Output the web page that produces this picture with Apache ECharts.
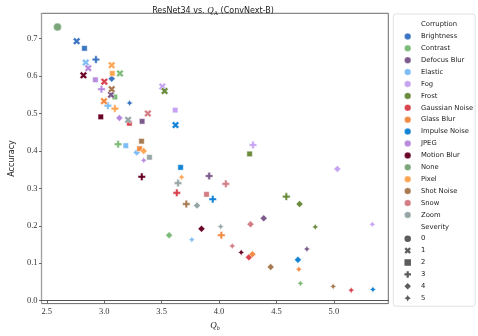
<!DOCTYPE html>
<html>
<head>
<meta charset="utf-8">
<script src="https://cdn.jsdelivr.net/npm/echarts@6/dist/echarts.min.js"></script>
<style>
  html, body { margin: 0; padding: 0; background: #fff; }
  #chart { width: 478px; height: 336px; }
</style>
</head>
<body>
<div id="chart"></div>
<script>
// corruption categories, legend order
const corruptions = ['Brightness', 'Contrast', 'Defocus Blur', 'Elastic', 'Fog', 'Frost',
  'Gaussian Noise', 'Glass Blur', 'Impulse Noise', 'JPEG', 'Motion Blur', 'None',
  'Pixel', 'Shot Noise', 'Snow', 'Zoom']
const severities = ['0', '1', '2', '3', '4', '5']

// Q_b and accuracy per corruption, severity 1..5
const qBrightness = [2.760, 2.828, 2.928, 3.065, 3.221]
const accBrightness = [0.693, 0.674, 0.644, 0.593, 0.528]
const qContrast = [3.137, 3.093, 3.121, 3.565, 4.709]
const accContrast = [0.607, 0.544, 0.418, 0.175, 0.046]
const qDefocus = [3.059, 3.330, 3.914, 4.389, 4.765]
const accDefocus = [0.550, 0.479, 0.333, 0.220, 0.138]
const qElastic = [2.839, 3.188, 3.032, 3.283, 3.763]
const accElastic = [0.636, 0.414, 0.521, 0.396, 0.163]
const qFog = [3.506, 3.618, 4.296, 5.030, 5.335]
const accFog = [0.572, 0.509, 0.416, 0.352, 0.204]
const qFrost = [3.526, 4.266, 4.586, 4.701, 4.838]
const accFrost = [0.560, 0.392, 0.278, 0.258, 0.197]
const qGaussian = [3.001, 3.219, 3.632, 4.260, 5.151]
const accGaussian = [0.585, 0.474, 0.288, 0.116, 0.028]
const qGlass = [2.998, 3.308, 4.020, 4.291, 4.695]
const accGlass = [0.533, 0.406, 0.175, 0.124, 0.084]
const qImpulse = [3.621, 3.665, 3.945, 4.687, 5.340]
const accImpulse = [0.469, 0.356, 0.271, 0.109, 0.030]
const qJpeg = [2.861, 2.923, 2.976, 3.132, 3.344]
const accJpeg = [0.621, 0.590, 0.565, 0.488, 0.375]
const qMotion = [2.819, 2.970, 3.327, 3.847, 4.193]
const accMotion = [0.602, 0.491, 0.331, 0.192, 0.129]
const qPixel = [3.065, 3.070, 3.093, 3.344, 3.674]
const accPixel = [0.629, 0.607, 0.513, 0.400, 0.330]
const qShot = [3.065, 3.325, 3.715, 4.450, 4.994]
const accShot = [0.565, 0.426, 0.258, 0.090, 0.038]
const qSnow = [3.380, 3.891, 4.059, 4.274, 4.115]
const accSnow = [0.500, 0.284, 0.312, 0.204, 0.146]
const qZoom = [3.208, 3.394, 3.643, 3.808, 4.014]
const accZoom = [0.483, 0.383, 0.314, 0.254, 0.198]
// clean images, severity 0
const qNone = [2.593]
const accNone = [0.731]

const xTicks = [2.5, 3.0, 3.5, 4.0, 4.5, 5.0]
const yTicks = [0.0, 0.1, 0.2, 0.3, 0.4, 0.5, 0.6, 0.7]

const palette = ['#3a74c2', '#7cba78', '#7d5a8b', '#7fbef5', '#c7a4f2', '#6a8a3c',
  '#d8434e', '#f28c45', '#1383d6', '#b88ade', '#6b0526', '#7ca67a',
  '#fda655', '#a77a52', '#d27c84', '#96a5a6']

const plusPath = 'path://M3.3,0L6.7,0L6.7,3.3L10,3.3L10,6.7L6.7,6.7L6.7,10L3.3,10L3.3,6.7L0,6.7L0,3.3L3.3,3.3Z'
const xPath = 'path://M0,2.5L2.5,0L5,2.5L7.5,0L10,2.5L7.5,5L10,7.5L7.5,10L5,7.5L2.5,10L0,7.5L2.5,5Z'
const squarePath = 'path://M0,0L10,0L10,10L0,10Z'
const diamondPath = 'path://M5,0L10,5L5,10L0,5Z'
const starPath = 'path://M5,0L6.77,3.23L10,5L6.77,6.77L5,10L3.23,6.77L0,5L3.23,3.23Z'
const sevSymbol = ['circle', xPath, squarePath, plusPath, diamondPath, starPath]
const sevSize = [8, 7.5, 5.5, 7.5, 7, 6.5]

const pointSets = {
  'Brightness': [qBrightness, accBrightness],
  'Contrast': [qContrast, accContrast],
  'Defocus Blur': [qDefocus, accDefocus],
  'Elastic': [qElastic, accElastic],
  'Fog': [qFog, accFog],
  'Frost': [qFrost, accFrost],
  'Gaussian Noise': [qGaussian, accGaussian],
  'Glass Blur': [qGlass, accGlass],
  'Impulse Noise': [qImpulse, accImpulse],
  'JPEG': [qJpeg, accJpeg],
  'Motion Blur': [qMotion, accMotion],
  'Pixel': [qPixel, accPixel],
  'Shot Noise': [qShot, accShot],
  'Snow': [qSnow, accSnow],
  'Zoom': [qZoom, accZoom]
}

const chart = echarts.init(document.getElementById('chart'))

const series = []
series.push({ name: 'Corruption', type: 'scatter', data: [] })
corruptions.forEach((c, i) => {
  let data
  if (c === 'None') {
    data = qNone.map((q, k) => ({
      value: [q, accNone[k]], symbol: sevSymbol[0], symbolSize: sevSize[0]
    }))
  } else {
    const [qs, accs] = pointSets[c]
    data = qs.map((q, k) => ({
      value: [q, accs[k]], symbol: sevSymbol[k + 1], symbolSize: sevSize[k + 1]
    }))
  }
  series.push({
    name: c,
    type: 'scatter',
    symbolKeepAspect: true,
    itemStyle: { color: palette[i], borderColor: '#fff', borderWidth: 0.5, opacity: 1 },
    emphasis: { disabled: true },
    data: data
  })
})
series.push({ name: 'Severity', type: 'scatter', data: [] })
severities.forEach((s) => {
  series.push({ name: s, type: 'scatter', itemStyle: { color: '#333' }, data: [] })
})

const legendData = [{ name: 'Corruption', icon: 'none' }]
corruptions.forEach((c) => legendData.push({ name: c, icon: 'circle' }))
legendData.push({ name: 'Severity', icon: 'none' })
severities.forEach((s, i) => legendData.push({ name: s, icon: sevSymbol[i] }))

const serif = '"Liberation Serif", "DejaVu Serif", serif'
const sans = '"DejaVu Sans", sans-serif'

chart.setOption({
  animation: false,
  title: {
    text: 'ResNet34 vs. {q|Q}{s|A} (ConvNext-B)',
    left: 208,
    textAlign: 'center',
    top: 1,
    textStyle: {
      fontFamily: sans,
      fontSize: 8,
      fontWeight: 'normal',
      color: '#222',
      rich: {
        q: { fontFamily: serif, fontStyle: 'italic', fontSize: 9, color: '#222' },
        s: { fontFamily: serif, fontSize: 6, color: '#222', padding: [4, 0, 0, 0] }
      }
    }
  },
  grid: {
    left: 27.7,
    top: 13.3,
    width: 360.6,
    height: 297,
    show: true,
    borderColor: '#444',
    borderWidth: 0.8
  },
  legend: {
    orient: 'vertical',
    left: 393.3,
    top: 14,
    padding: [6.5, 2, 4, 6.1],
    itemWidth: 16.6,
    itemHeight: 6.5,
    itemGap: 3.9,
    symbolKeepAspect: true,
    itemStyle: { borderWidth: 0.3 },
    borderColor: '#d9d9d9',
    borderWidth: 0.8,
    borderRadius: 2.5,
    selectedMode: false,
    textStyle: { fontFamily: sans, fontSize: 6.8, lineHeight: 8, color: '#222' },
    data: legendData
  },
  xAxis: {
    type: 'value',
    min: 2.454,
    max: 5.474,
    name: '{q|Q}{s|b}',
    nameLocation: 'middle',
    nameGap: 15,
    nameTextStyle: {
      rich: {
        q: { fontFamily: serif, fontStyle: 'italic', fontSize: 9, color: '#222' },
        s: { fontFamily: serif, fontStyle: 'italic', fontSize: 6, color: '#222', padding: [4, 0, 0, 0] }
      }
    },
    splitLine: { show: false },
    axisLine: { lineStyle: { color: '#555', width: 1 } },
    axisTick: { customValues: xTicks, length: 2.5, lineStyle: { color: '#444', width: 0.8 } },
    axisLabel: {
      customValues: xTicks,
      formatter: (v) => v.toFixed(1),
      fontFamily: serif,
      fontSize: 8.5,
      color: '#333',
      margin: 4
    }
  },
  yAxis: {
    type: 'value',
    min: -0.0078,
    max: 0.7676,
    name: 'Accuracy',
    nameLocation: 'middle',
    nameGap: 21,
    nameTextStyle: { fontFamily: sans, fontSize: 8, color: '#222' },
    splitLine: { show: false },
    axisLine: { lineStyle: { color: '#a0a0a0', width: 1.3 } },
    axisTick: { customValues: yTicks, length: 2.5, lineStyle: { color: '#444', width: 0.8 } },
    axisLabel: {
      customValues: yTicks,
      formatter: (v) => v.toFixed(1),
      fontFamily: serif,
      fontSize: 8.5,
      color: '#333',
      margin: 4
    }
  },
  series: series
})
</script>
</body>
</html>
